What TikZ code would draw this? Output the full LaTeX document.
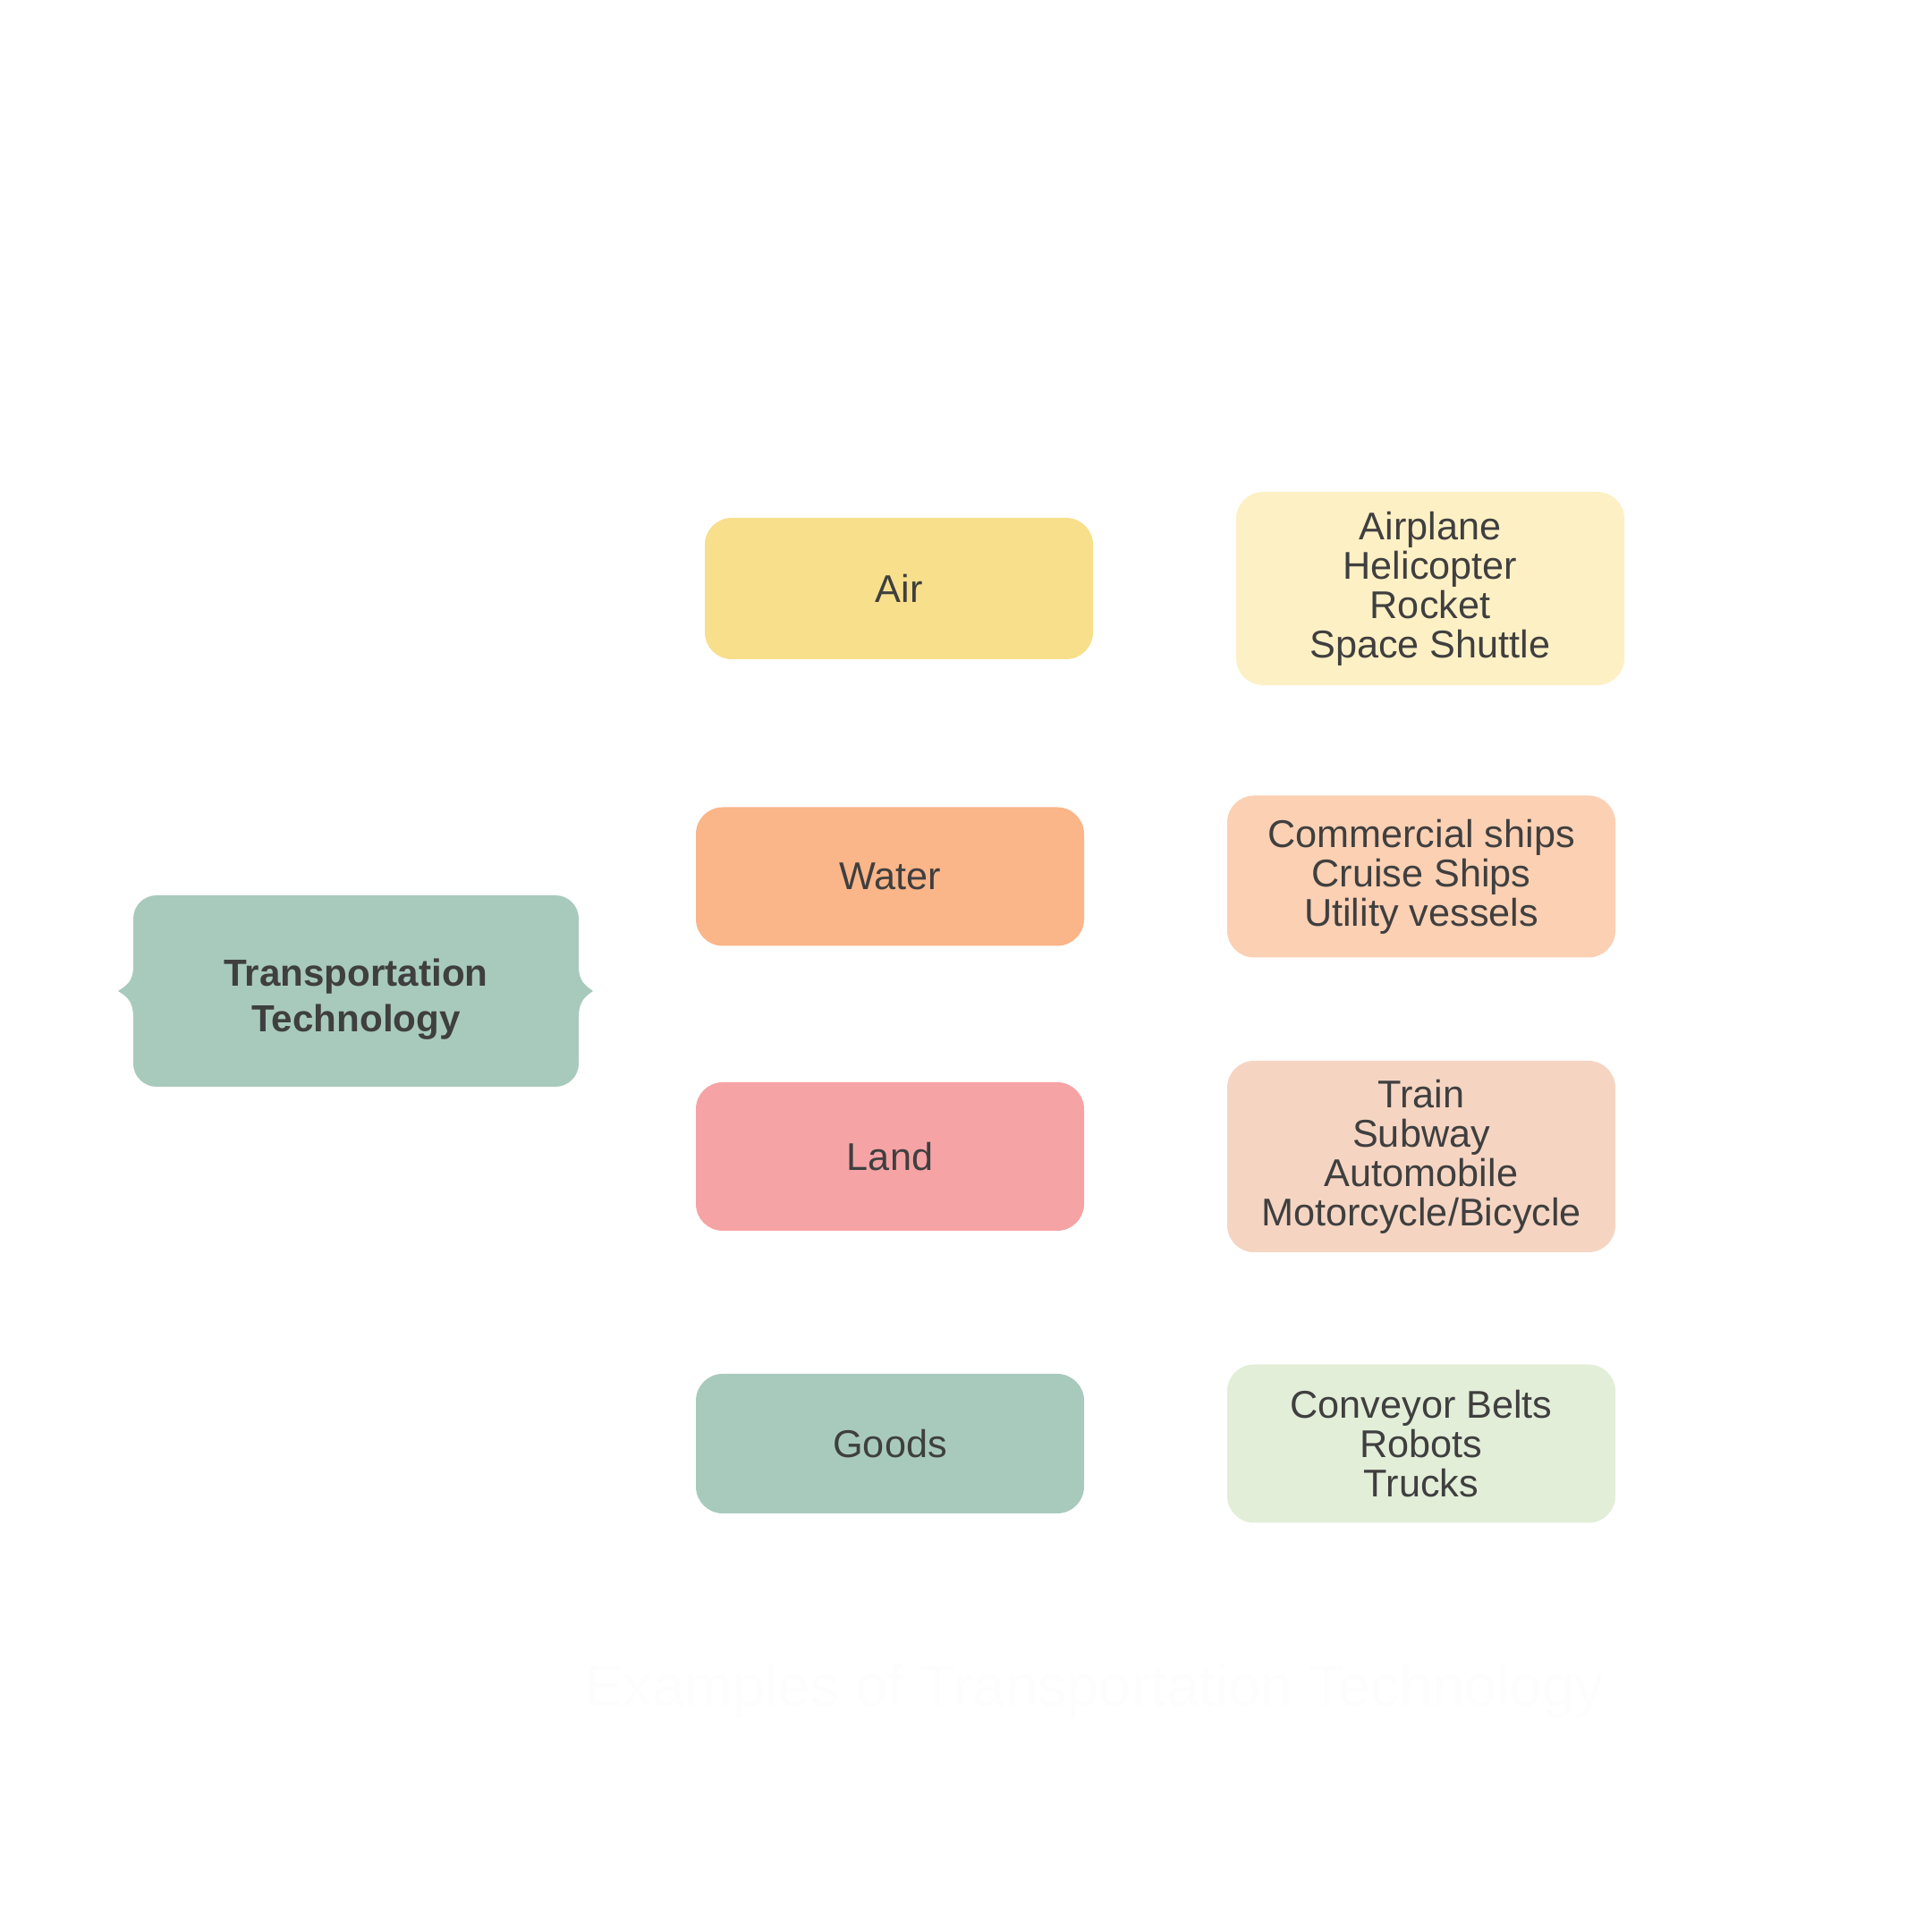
\documentclass[tikz,border=0pt]{standalone}
\usepackage{fontspec}
\setmainfont{Liberation Sans}
\usepackage{xcolor}
\usetikzlibrary{positioning}

\definecolor{inkgray}{HTML}{3F3F3F}
\definecolor{airfill}{HTML}{F7DF8C}
\definecolor{airlight}{HTML}{FEF0C5}
\definecolor{waterfill}{HTML}{FAB589}
\definecolor{waterlight}{HTML}{FCD0B3}
\definecolor{landfill}{HTML}{F6A3A5}
\definecolor{landlight}{HTML}{F5D5C2}
\definecolor{goodsfill}{HTML}{A8CABD}
\definecolor{goodslight}{HTML}{E2EED8}
\definecolor{titlewhite}{HTML}{FDFDFD}

\begin{document}
\begin{tikzpicture}[every node/.style={font=\fontsize{12.3}{12.5}\selectfont, text=inkgray},
  mode/.style={rectangle, rounded corners=0.3cm, minimum width=4.34cm, align=center},
  items/.style={rectangle, rounded corners=0.3cm, minimum width=4.34cm, align=center,
    execute at begin node={\rule{0pt}{14.5pt}}}]
\useasboundingbox (0,0) rectangle (21.6,21.6);

% Left: main topic, brace-sided box
\fill[goodsfill] (1.75,11.59) -- (6.21,11.59) arc[start angle=90,end angle=0,radius=0.26]
  -- (6.47,10.80) .. controls (6.47,10.62) and (6.55,10.58) .. (6.63,10.52)
  .. controls (6.55,10.46) and (6.47,10.42) .. (6.47,10.22)
  -- (6.47,9.71) arc[start angle=0,end angle=-90,radius=0.26]
  -- (1.75,9.45) arc[start angle=270,end angle=180,radius=0.26]
  -- (1.49,10.22) .. controls (1.49,10.42) and (1.41,10.46) .. (1.32,10.52)
  .. controls (1.41,10.58) and (1.49,10.62) .. (1.49,10.80)
  -- (1.49,11.33) arc[start angle=180,end angle=90,radius=0.26] -- cycle;
\node[align=center, font=\fontsize{12}{14.5}\selectfont\bfseries] (tech) at (3.98,10.43) {Transportation\\Technology};

% Middle: kinds of transport
\node[mode, fill=airfill, minimum height=1.58cm] (air) at (10.05,15.02) {Air};
\node[mode, fill=waterfill, minimum height=1.55cm] (water) at (9.95,11.80) {Water};
\node[mode, fill=landfill, minimum height=1.66cm] (land) at (9.95,8.67) {Land};
\node[mode, fill=goodsfill, minimum height=1.56cm] (goods) at (9.95,5.46) {Goods};

% Right: examples
\node[items, fill=airlight, minimum height=2.16cm] (airex) at (15.99,15.02) {Airplane\\Helicopter\\Rocket\\Space Shuttle};
\node[items, fill=waterlight, minimum height=1.81cm] (waterex) at (15.89,11.80) {Commercial ships\\Cruise Ships\\Utility vessels};
\node[items, fill=landlight, minimum height=2.14cm] (landex) at (15.89,8.67) {Train\\Subway\\Automobile\\Motorcycle/Bicycle};
\node[items, fill=goodslight, minimum height=1.77cm] (goodsex) at (15.89,5.46) {Conveyor Belts\\Robots\\Trucks};

% Bottom: faint title
\node[font=\fontsize{18.5}{20}\selectfont, text=titlewhite] (title) at (12.23,2.69) {Examples of Transportation Technology};
\end{tikzpicture}
\end{document}
